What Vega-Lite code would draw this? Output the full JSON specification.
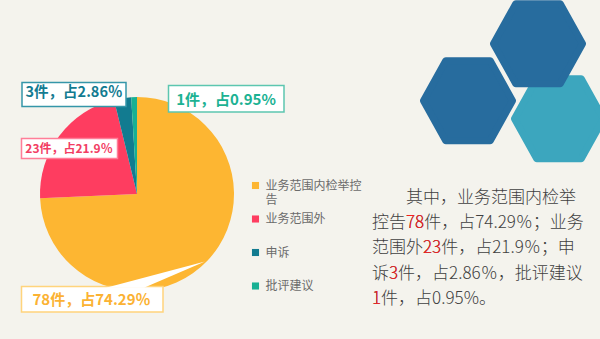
{
  "$schema": "https://vega.github.io/schema/vega-lite/v6.json",
  "width": 600,
  "height": 339,
  "autosize": {"type": "fit", "contains": "padding"},
  "padding": 0,
  "background": "#f4f3ed",
  "config": {"view": {"stroke": null}, "font": "Noto Sans CJK SC"},
  "datasets": {
    "main": [
      {"category": "业务范围内检举控告", "count": 78, "idx": 1, "label": "78件，占74.29％"},
      {"category": "业务范围外", "count": 23, "idx": 2, "label": "23件，占21.9％"},
      {"category": "申诉", "count": 3, "idx": 3, "label": "3件，占2.86％"},
      {"category": "批评建议", "count": 1, "idx": 4, "label": "1件，占0.95%"}
    ],
    "para": [
      {
        "lines": ["\u2060　　其中，业务范围内检举", "控告78件，占74.29％；业务", "范围外23件，占21.9％；申", "诉3件，占2.86％，批评建议", "1件，占0.95%。"],
        "hl": ["", "\u2060　　78", "\u2060　　　23", "\u2060　3", "1"]
      }
    ],
    "deco": [{"d": 1}]
  },
  "data": {"name": "main"},
  "layer": [
    {
      "data": {"name": "deco"},
      "mark": {"type": "point", "shape": "M-1,0L-0.5,-0.9L0.5,-0.9L1,0L0.5,0.9L-0.5,0.9Z", "size": 7921, "filled": true, "fill": "#3ca6be", "stroke": "#3ca6be", "strokeWidth": 7, "strokeJoin": "round", "opacity": 1, "x": 558, "y": 111.7},
      "encoding": {}
    },
    {
      "data": {"name": "deco"},
      "mark": {"type": "point", "shape": "M-1,0L-0.5,-0.9L0.5,-0.9L1,0L0.5,0.9L-0.5,0.9Z", "size": 7921, "filled": true, "fill": "#276c9e", "stroke": "#276c9e", "strokeWidth": 7, "strokeJoin": "round", "opacity": 1, "x": 537, "y": 36.7},
      "encoding": {}
    },
    {
      "data": {"name": "deco"},
      "mark": {"type": "point", "shape": "M-1,0L-0.5,-0.9L0.5,-0.9L1,0L0.5,0.9L-0.5,0.9Z", "size": 7921, "filled": true, "fill": "#276c9e", "stroke": "#276c9e", "strokeWidth": 7, "strokeJoin": "round", "opacity": 1, "x": 467, "y": 93.7},
      "encoding": {}
    },
    {
      "data": {"name": "deco"},
      "mark": {"type": "rule", "x": 156.5, "y": 47, "y2": 66, "stroke": "#d2d2d2", "strokeWidth": 1},
      "encoding": {}
    },
    {
      "mark": {"type": "arc", "outerRadius": 97, "x": 136, "y": 187},
      "encoding": {
        "theta": {"field": "count", "type": "quantitative", "stack": true},
        "order": {"field": "idx", "type": "quantitative"},
        "color": {
          "field": "category",
          "type": "nominal",
          "scale": {
            "domain": ["业务范围内检举控告", "业务范围外", "申诉", "批评建议"],
            "range": ["#fdb632", "#fe3d60", "#127b90", "#17b093"]
          },
          "legend": {
            "title": null,
            "orient": "none",
            "legendX": 248.5,
            "legendY": 172.5,
            "padding": 0,
            "symbolType": "square",
            "symbolSize": 50,
            "symbolStrokeWidth": 0,
            "labelFont": "Noto Sans CJK SC",
            "labelFontSize": 12,
            "labelColor": "#6b6b6b",
            "labelOffset": 4,
            "labelLimit": 0,
            "gridAlign": "all",
            "rowPadding": 7.5,
            "labelExpr": "datum.label == '业务范围内检举控告' ? ['业务范围内检举控', '告'] : datum.label"
          }
        }
      }
    },
    {
      "transform": [{"filter": "datum.idx == 3"}],
      "mark": {"type": "rect", "x": 21, "y": 75.5, "x2": 125, "y2": 99.5, "fill": "#ffffff", "stroke": "#3596a9", "strokeWidth": 1.5},
      "encoding": {}
    },
    {
      "transform": [{"filter": "datum.idx == 4"}],
      "mark": {"type": "rect", "x": 167.5, "y": 78.5, "x2": 283, "y2": 105, "fill": "#ffffff", "stroke": "#5cc6b0", "strokeWidth": 1.5},
      "encoding": {}
    },
    {
      "data": {"name": "deco"},
      "mark": {"type": "rule", "x": 134, "y": 91.5, "x2": 167.5, "y2": 80.5, "stroke": "#4fbfa8", "strokeWidth": 1},
      "encoding": {}
    },
    {
      "transform": [{"filter": "datum.idx == 2"}],
      "mark": {"type": "rect", "x": 20.5, "y": 131.5, "x2": 116.5, "y2": 151.5, "fill": "#ffffff", "stroke": "#ff7e98", "strokeWidth": 1.5},
      "encoding": {}
    },
    {
      "transform": [{"filter": "datum.idx == 1"}],
      "mark": {"type": "rect", "x": 20.5, "y": 279.5, "x2": 162, "y2": 305, "fill": "#ffffff", "stroke": "#ffd47c", "strokeWidth": 1.5},
      "encoding": {}
    },
    {
      "data": {"name": "deco"},
      "mark": {"type": "point", "shape": "M-0.75,0.23L-0.117,0.23L0.9,-0.208Z", "size": 14400, "filled": true, "fill": "#ffffff", "strokeWidth": 0, "opacity": 1, "x": 150, "y": 267},
      "encoding": {}
    },
    {
      "transform": [{"filter": "datum.idx == 3"}],
      "mark": {"type": "text", "x": 73, "y": 86, "align": "center", "baseline": "middle", "fontSize": 14.5, "fontWeight": "bold", "fill": "#137b91"},
      "encoding": {"text": {"field": "label", "type": "nominal"}}
    },
    {
      "transform": [{"filter": "datum.idx == 4"}],
      "mark": {"type": "text", "x": 225, "y": 92.5, "align": "center", "baseline": "middle", "fontSize": 15, "fontWeight": "bold", "fill": "#1cb293"},
      "encoding": {"text": {"field": "label", "type": "nominal"}}
    },
    {
      "transform": [{"filter": "datum.idx == 2"}],
      "mark": {"type": "text", "x": 68, "y": 141.7, "align": "center", "baseline": "middle", "fontSize": 12, "fontWeight": "bold", "fill": "#f23d63"},
      "encoding": {"text": {"field": "label", "type": "nominal"}}
    },
    {
      "transform": [{"filter": "datum.idx == 1"}],
      "mark": {"type": "text", "x": 90.5, "y": 292.8, "align": "center", "baseline": "middle", "fontSize": 15, "fontWeight": "bold", "fill": "#fbb233"},
      "encoding": {"text": {"field": "label", "type": "nominal"}}
    },
    {
      "data": {"name": "para"},
      "mark": {"type": "text", "x": 371, "y": 191, "align": "left", "baseline": "middle", "fontSize": 17, "fontWeight": 300, "lineHeight": 25.2, "fill": "#404040", "font": "Noto Sans CJK SC"},
      "encoding": {"text": {"field": "lines", "type": "nominal"}}
    },
    {
      "data": {"name": "para"},
      "mark": {"type": "text", "x": 371, "y": 191, "align": "left", "baseline": "middle", "fontSize": 17, "fontWeight": 300, "lineHeight": 25.2, "fill": "#f5201f", "font": "Noto Sans CJK SC"},
      "encoding": {"text": {"field": "hl", "type": "nominal"}}
    }
  ]
}
